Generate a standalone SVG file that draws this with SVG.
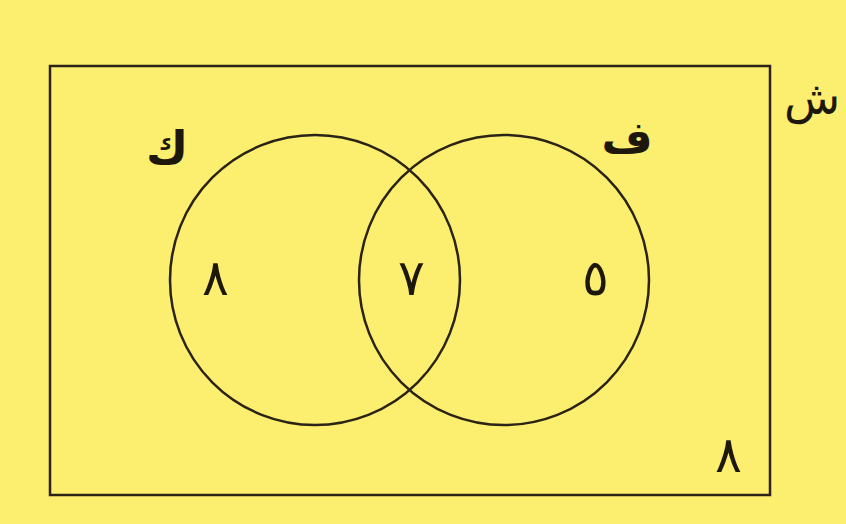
<svg xmlns="http://www.w3.org/2000/svg" width="846" height="524" viewBox="0 0 846 524">
<style>
.ln{fill:none;stroke:#2b2316;stroke-width:2.5}
.lbl{font-family:"DejaVu Sans",sans-serif;font-weight:bold;fill:#1e180c;text-anchor:middle}
.num{font-family:"DejaVu Sans",sans-serif;fill:#1e180c;text-anchor:middle;font-size:50px;font-weight:200}
</style>
<rect x="0" y="0" width="846" height="524" fill="#fcee6f"/>
<g id="universe">
<rect class="ln" x="50" y="66" width="720" height="429"/>
<text class="lbl" x="812" y="114" font-size="46" style="font-weight:normal">ش</text>
<text class="num" x="728" y="472">٨</text>
</g>
<g id="setK">
<circle class="ln" cx="315" cy="280" r="145"/>
<text class="lbl" x="167" y="164" font-size="46">ك</text>
<text class="num" x="215" y="295">٨</text>
</g>
<g id="setF">
<circle class="ln" cx="504" cy="280" r="145"/>
<text class="lbl" x="627" y="153" font-size="44">ف</text>
<text class="num" x="595" y="295">٥</text>
</g>
<g id="intersection">
<text class="num" x="411" y="295">٧</text>
</g>
</svg>
